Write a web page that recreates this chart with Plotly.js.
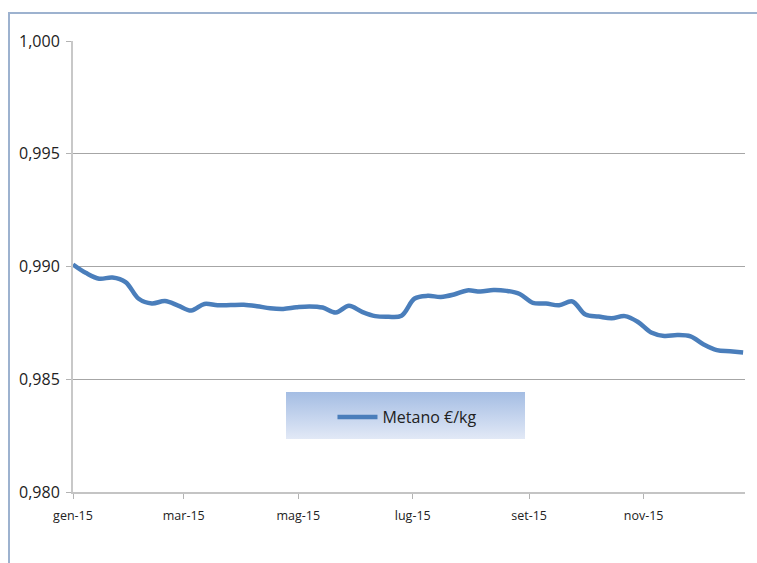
<!DOCTYPE html>
<html>
<head>
<meta charset="utf-8">
<script src="https://cdn.plot.ly/plotly-3.0.1.min.js"></script>
<style>
  html, body { margin: 0; padding: 0; background: #ffffff; }
  #wrap { position: relative; width: 757px; height: 563px; overflow: hidden; background: #fff; }
  #frame { position: absolute; left: 8px; top: 12px; width: 760px; height: 600px;
           border-left: 2px solid #9db2cf; border-top: 2px solid #9db2cf; }
  #legbg { position: absolute; left: 286px; top: 392px; width: 239px; height: 47px;
           background: linear-gradient(to bottom, #a4bde3 0%, #c6d5ee 55%, #e2e9f6 100%); }
  #chart { position: absolute; left: 0; top: 0; width: 757px; height: 563px; }
</style>
</head>
<body>
<div id="wrap">
  <div id="frame"></div>
  <div id="legbg"></div>
  <div id="chart"></div>
</div>
<script>
const dates = [
  "2015-01-01","2015-01-08","2015-01-15","2015-01-22","2015-01-29",
  "2015-02-05","2015-02-12","2015-02-19","2015-02-26",
  "2015-03-05","2015-03-12","2015-03-19","2015-03-26",
  "2015-04-02","2015-04-09","2015-04-16","2015-04-23","2015-04-30",
  "2015-05-07","2015-05-14","2015-05-21","2015-05-28",
  "2015-06-04","2015-06-11","2015-06-18","2015-06-25",
  "2015-07-02","2015-07-09","2015-07-16","2015-07-23","2015-07-30",
  "2015-08-06","2015-08-13","2015-08-20","2015-08-27",
  "2015-09-03","2015-09-10","2015-09-17","2015-09-24",
  "2015-10-01","2015-10-08","2015-10-15","2015-10-22","2015-10-29",
  "2015-11-05","2015-11-12","2015-11-19","2015-11-26",
  "2015-12-03","2015-12-10","2015-12-17","2015-12-24"
];
const metano = [
  0.99009, 0.98971, 0.98946, 0.98951, 0.98931,
  0.98857, 0.98836, 0.98847, 0.98827,
  0.98805, 0.98834, 0.98828, 0.98829,
  0.98830, 0.98824, 0.98815, 0.98812, 0.98819,
  0.98823, 0.98818, 0.98796, 0.98826,
  0.98799, 0.98780, 0.98777, 0.98782,
  0.98858, 0.98870, 0.98865, 0.98876, 0.98894,
  0.98889, 0.98896, 0.98892, 0.98878,
  0.98839, 0.98836, 0.98828, 0.98845,
  0.98787, 0.98778, 0.98770, 0.98780, 0.98754,
  0.98707, 0.98692, 0.98696, 0.98690,
  0.98654, 0.98629, 0.98624, 0.98619
];
const seriesName = "Metano €/kg";
const xTickVals = ["2015-01-01","2015-03-01","2015-05-01","2015-07-01","2015-09-01","2015-11-01"];
const xTickText = ["gen-15","mar-15","mag-15","lug-15","set-15","nov-15"];
const yTickVals = [0.980, 0.985, 0.990, 0.995, 1.000];

const font = "Open Sans, Liberation Sans, sans-serif";

const trace = {
  x: dates, y: metano, type: "scatter", mode: "lines", name: seriesName,
  line: { color: "#4a7ebb", width: 4.5, shape: "spline", smoothing: 1 },
  showlegend: true
};

const layout = {
  width: 757, height: 563,
  margin: { l: 73, r: 12, t: 41, b: 71 },
  paper_bgcolor: "rgba(0,0,0,0)",
  plot_bgcolor: "rgba(0,0,0,0)",
  separators: ",.",
  font: { family: font, color: "#222" },
  xaxis: {
    type: "date",
    range: ["2015-01-01", "2015-12-25"],
    tickvals: xTickVals, ticktext: xTickText,
    ticks: "outside", ticklen: 5, tickcolor: "#b3b3b3", tickwidth: 1,
    ticklabelstandoff: 6,
    showline: true, linecolor: "#c4c4c4", linewidth: 2,
    showgrid: false, zeroline: false,
    tickfont: { family: font, size: 12.5, color: "#222" }
  },
  yaxis: {
    range: [0.980, 1.000],
    tickvals: yTickVals, tickformat: ".3f",
    ticks: "outside", ticklen: 5, tickcolor: "#b3b3b3", tickwidth: 1,
    ticklabelstandoff: 3,
    showline: true, linecolor: "#c8c8c8", linewidth: 2,
    showgrid: true, gridcolor: "#a6a6a6", gridwidth: 1.2,
    zeroline: false,
    tickfont: { family: font, size: 16, color: "#222" }
  },
  legend: {
    x: 0.497, y: 0.166, xanchor: "center", yanchor: "middle",
    bgcolor: "rgba(0,0,0,0)", borderwidth: 0,
    font: { family: font, size: 16, color: "#222" },
    itemwidth: 40
  }
};

Plotly.newPlot("chart", [trace], layout, { displayModeBar: false, staticPlot: true });
</script>
</body>
</html>
